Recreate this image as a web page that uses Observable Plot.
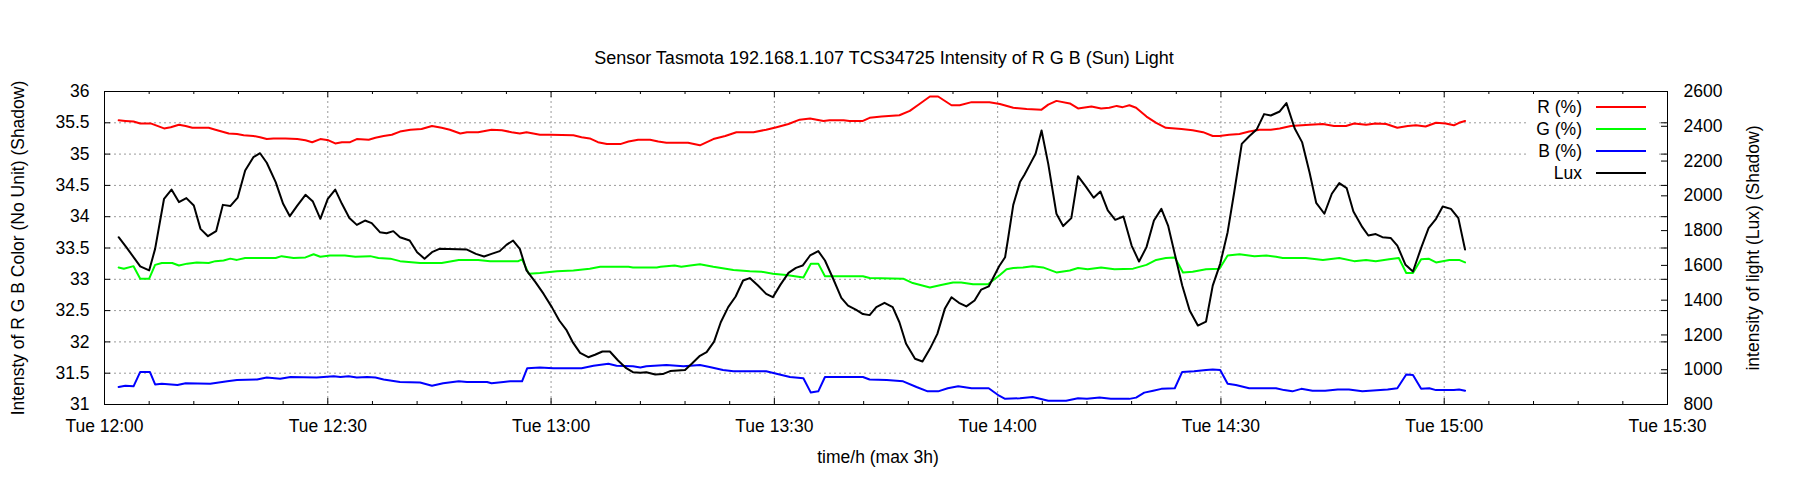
<!DOCTYPE html>
<html>
<head>
<meta charset="utf-8">
<script src="https://cdn.jsdelivr.net/npm/d3@7"></script>
<script src="https://cdn.jsdelivr.net/npm/@observablehq/plot@0.6"></script>
<style>
  html, body { margin: 0; padding: 0; background: #fff; }
  #chart { width: 1800px; height: 500px; }
</style>
</head>
<body>
<div id="chart"></div>
<script>
// ---- data (minutes after Tue 12:00) ----
const rTime = [1.9,2.8,3.9,4.8,6.2,7.1,8.0,8.9,10.0,10.9,11.8,14.0,14.9,16.7,17.8,18.7,20.0,20.9,21.8,22.7,24.3,25.9,27.0,27.9,29.0,30.1,31.0,31.9,33.0,33.9,35.5,36.4,37.5,38.6,39.7,41.1,42.6,44.0,45.3,46.4,47.8,48.7,50.2,52.0,53.4,54.7,55.8,56.7,58.5,59.9,63.0,64.1,65.2,66.3,67.5,69.3,70.4,71.7,73.3,74.4,75.5,78.4,80.0,81.8,83.4,84.9,87.2,88.9,90.3,91.9,93.4,94.8,96.6,97.4,99.3,100.1,101.9,102.8,104.4,106.8,108.2,109.5,110.9,112.0,113.8,114.9,116.5,118.9,120.3,122.1,123.9,125.9,126.8,127.9,129.7,130.8,132.6,133.9,135.0,136.0,136.8,137.7,138.6,140.0,141.3,142.6,144.7,146.2,147.6,148.9,149.8,151.1,152.5,153.8,155.2,156.7,157.9,159.4,161.9,163.7,165.2,166.8,167.9,169.5,170.8,172.2,173.7,175.1,176.2,177.5,178.9,180.2,181.3,182.0,182.8];
const rVal  = [35.54,35.53,35.52,35.49,35.49,35.45,35.41,35.43,35.47,35.45,35.42,35.42,35.39,35.33,35.32,35.30,35.29,35.27,35.24,35.25,35.25,35.24,35.22,35.19,35.24,35.22,35.17,35.19,35.19,35.24,35.23,35.26,35.29,35.31,35.36,35.39,35.40,35.45,35.42,35.39,35.33,35.35,35.35,35.39,35.38,35.35,35.33,35.35,35.31,35.31,35.30,35.27,35.25,35.19,35.16,35.16,35.20,35.23,35.23,35.20,35.18,35.18,35.14,35.24,35.29,35.35,35.35,35.39,35.43,35.48,35.55,35.57,35.53,35.54,35.54,35.53,35.53,35.58,35.60,35.62,35.69,35.80,35.92,35.92,35.78,35.78,35.83,35.83,35.80,35.74,35.72,35.71,35.79,35.85,35.81,35.73,35.76,35.73,35.74,35.77,35.75,35.78,35.74,35.60,35.50,35.42,35.40,35.38,35.35,35.29,35.29,35.31,35.32,35.36,35.39,35.39,35.41,35.45,35.47,35.48,35.45,35.45,35.49,35.47,35.49,35.48,35.42,35.45,35.46,35.44,35.50,35.49,35.46,35.50,35.53];

const gTime = [1.9,2.6,3.9,4.8,6.0,6.8,7.7,9.1,10.0,11.1,12.4,14.0,14.9,16.0,16.9,17.8,18.9,23.0,23.8,25.4,27.0,28.1,29.0,30.3,32.3,33.7,35.7,36.8,38.4,39.7,42.4,45.3,47.6,50.2,51.8,55.6,56.1,57.0,58.5,60.8,63.0,65.2,66.6,70.4,71.0,74.2,74.7,76.6,77.5,78.7,80.0,81.8,84.5,86.7,88.3,89.8,91.6,93.9,94.9,95.9,96.8,101.9,102.8,107.3,108.6,110.9,112.4,114.0,115.1,116.7,118.7,120.3,121.2,122.1,123.4,124.7,126.1,127.9,129.7,130.8,132.1,133.9,135.7,138.2,140.0,141.3,142.6,143.8,144.9,146.2,148.0,149.8,150.9,152.5,154.5,156.1,157.4,158.3,161.4,163.7,165.9,167.9,169.5,170.8,172.6,173.9,174.9,175.8,176.9,177.9,178.9,180.7,182.0,182.8];
const gVal  = [33.19,33.17,33.21,33.01,33.01,33.23,33.26,33.26,33.22,33.25,33.27,33.26,33.29,33.30,33.33,33.31,33.34,33.34,33.37,33.34,33.35,33.40,33.36,33.38,33.38,33.36,33.37,33.34,33.33,33.29,33.26,33.26,33.31,33.31,33.29,33.29,33.32,33.09,33.10,33.13,33.14,33.17,33.20,33.20,33.19,33.19,33.20,33.22,33.20,33.22,33.24,33.20,33.15,33.13,33.12,33.09,33.07,33.03,33.25,33.25,33.05,33.05,33.02,33.01,32.94,32.87,32.91,32.95,32.95,32.92,32.92,33.07,33.16,33.18,33.19,33.21,33.19,33.11,33.14,33.18,33.16,33.19,33.16,33.17,33.23,33.31,33.34,33.35,33.11,33.12,33.16,33.17,33.38,33.40,33.37,33.38,33.36,33.34,33.34,33.31,33.34,33.29,33.31,33.29,33.32,33.34,33.10,33.10,33.32,33.33,33.27,33.31,33.31,33.27];

const bTime = [1.9,2.8,3.9,4.8,6.1,6.8,7.7,9.8,10.9,14.2,16.5,17.8,20.5,21.8,23.6,25.0,28.5,30.8,31.7,32.8,33.9,35.3,36.4,37.5,39.7,42.4,44.0,45.5,47.6,48.7,51.4,52.0,53.6,54.5,56.1,56.8,58.5,60.3,64.1,65.7,67.7,68.8,71.0,72.0,72.8,75.5,77.8,80.0,81.3,83.1,84.5,88.9,90.7,92.1,93.9,94.9,95.9,96.8,101.9,102.8,105.1,107.3,109.1,110.6,112.0,113.3,114.7,116.5,118.8,120.2,121.0,123.0,124.7,126.8,129.2,130.8,132.0,133.7,135.2,137.7,138.6,139.7,140.9,142.0,143.8,144.8,146.4,148.0,148.9,149.9,150.9,152.0,153.8,157.4,158.5,159.6,160.8,162.3,164.0,165.7,167.2,169.0,172.4,173.7,174.9,175.8,176.9,178.0,178.9,181.3,182.0,182.8];
const bVal  = [31.28,31.30,31.29,31.52,31.52,31.32,31.33,31.31,31.34,31.33,31.37,31.39,31.40,31.43,31.41,31.44,31.43,31.45,31.44,31.45,31.43,31.44,31.43,31.40,31.36,31.35,31.30,31.34,31.37,31.36,31.36,31.34,31.36,31.37,31.37,31.58,31.59,31.58,31.58,31.62,31.65,31.62,31.61,31.59,31.61,31.63,31.61,31.63,31.60,31.55,31.53,31.53,31.48,31.44,31.42,31.19,31.21,31.44,31.44,31.40,31.39,31.37,31.28,31.21,31.21,31.26,31.29,31.26,31.26,31.14,31.09,31.10,31.12,31.06,31.06,31.10,31.09,31.11,31.09,31.09,31.11,31.19,31.22,31.25,31.26,31.52,31.53,31.55,31.56,31.55,31.33,31.31,31.26,31.26,31.23,31.21,31.25,31.22,31.22,31.24,31.24,31.21,31.24,31.26,31.48,31.47,31.25,31.26,31.23,31.23,31.24,31.22];

const luxTime = [1.9,3.0,4.8,6.0,6.8,8.0,9.0,10.0,11.0,12.0,12.9,13.9,15.0,15.9,16.9,17.9,18.9,20.0,20.9,21.8,23.0,24.0,24.9,25.9,27.0,28.0,29.0,30.0,31.0,31.9,32.9,33.9,35.0,35.9,37.0,37.9,38.8,39.7,41.0,42.0,43.0,44.0,45.0,48.7,49.9,51.0,52.0,53.1,54.0,54.9,55.8,56.7,57.9,59.0,60.1,61.1,62.1,62.9,63.9,65.0,65.9,66.9,67.9,69.0,70.1,71.0,72.0,72.8,74.0,75.0,76.0,78.0,78.9,80.0,80.9,81.9,82.8,83.8,84.8,85.8,86.7,87.8,88.9,89.8,90.8,91.9,92.9,93.8,94.8,95.9,96.8,97.9,99.0,99.9,101.0,101.9,102.8,103.7,104.8,105.9,106.8,107.7,108.9,109.9,110.9,111.9,112.9,113.8,114.8,115.8,116.9,117.8,118.8,120.2,121.0,121.4,122.1,123.0,123.6,124.5,125.1,125.9,126.8,127.9,128.8,129.9,130.8,131.9,132.9,133.8,134.8,135.8,136.9,138.0,139.0,140.0,141.0,142.0,142.9,143.8,144.8,145.8,146.9,148.0,148.9,149.9,150.9,151.8,152.8,153.8,154.8,155.8,156.7,157.9,158.8,159.9,160.9,161.9,162.8,163.9,164.9,165.9,166.9,167.8,169.0,169.8,170.8,171.7,172.8,173.7,174.8,175.8,176.9,177.9,178.9,179.8,180.9,181.9,182.8];
const luxVal  = [1762,1701,1594,1571,1695,1983,2036,1964,1987,1944,1810,1768,1797,1948,1941,1990,2146,2222,2245,2190,2079,1954,1883,1944,2006,1967,1868,1983,2036,1954,1873,1833,1858,1843,1791,1785,1797,1762,1743,1676,1638,1676,1695,1691,1666,1651,1666,1682,1718,1743,1695,1571,1504,1436,1360,1283,1226,1159,1097,1072,1086,1105,1105,1053,1009,986,982,986,973,975,992,999,1034,1080,1101,1162,1273,1360,1421,1513,1527,1484,1436,1417,1488,1557,1586,1599,1657,1682,1628,1523,1413,1369,1344,1320,1314,1360,1385,1360,1273,1149,1063,1047,1120,1206,1350,1417,1385,1364,1398,1461,1479,1595,1647,1753,1948,2079,2121,2194,2242,2376,2184,1897,1826,1872,2113,2050,1989,2025,1916,1862,1881,1714,1622,1705,1858,1925,1829,1666,1484,1341,1254,1277,1484,1609,1791,2025,2299,2343,2381,2470,2462,2485,2533,2389,2309,2136,1960,1897,2012,2073,2044,1910,1820,1772,1780,1762,1758,1714,1603,1565,1701,1814,1868,1939,1925,1872,1691];

// ---- ticks & labels ----
const xMajor = [0, 30, 60, 90, 120, 150, 180, 210];
const xTickLabels = ["Tue 12:00","Tue 12:30","Tue 13:00","Tue 13:30","Tue 14:00","Tue 14:30","Tue 15:00","Tue 15:30"];
const xMinor = d3.range(0, 211, 6).filter(m => m % 30 !== 0);
const yTicks = [31, 31.5, 32, 32.5, 33, 33.5, 34, 34.5, 35, 35.5, 36];
const luxTicks = [800, 1000, 1200, 1400, 1600, 1800, 2000, 2200, 2400, 2600];

const seriesNames = ["R (%)", "G (%)", "B (%)", "Lux"];
const seriesColors = ["#ff0000", "#00ff00", "#0000ff", "#000000"];

const titleText = "Sensor Tasmota 192.168.1.107 TCS34725 Intensity of R G B (Sun) Light";
const yLabel = "Intensty of R G B Color (No Unit) (Shadow)";
const y2Label = "intensity of light (Lux) (Shadow)";
const xLabel = "time/h (max 3h)";

// ---- dual-axis mapping (lux -> left scale) ----
const Y0 = 31, Y1 = 36, L0 = 800, L1 = 2600;
const luxToLeft = l => Y0 + (l - L0) * (Y1 - Y0) / (L1 - L0);
const leftToLux = v => L0 + (v - Y0) * (L1 - L0) / (Y1 - Y0);

const rData = rTime.map((t, i) => ({t, v: rVal[i]}));
const gData = gTime.map((t, i) => ({t, v: gVal[i]}));
const bData = bTime.map((t, i) => ({t, v: bVal[i]}));
const luxData = luxTime.map((t, i) => ({t, v: luxToLeft(luxVal[i])}));

const W = 1800, H = 500;
const mL = 104, mR = 133, mT = 91, mB = 96;
const fw = W - mL - mR, fh = H - mT - mB;
const FONT = "'Liberation Sans', Arial, Helvetica, sans-serif";
const FS = 17.5;
const FT = 18;

const grid = {stroke: "#9a9a9a", strokeOpacity: 1, strokeDasharray: "2,3", strokeWidth: 1};

const chart = Plot.plot({
  width: W, height: H,
  marginLeft: mL, marginRight: mR, marginTop: mT, marginBottom: mB,
  style: {fontFamily: FONT, fontSize: FS + "px", background: "#fff", color: "#000"},
  x: {type: "linear", domain: [0, 210]},
  y: {domain: [Y0, Y1]},
  marks: [
    Plot.gridX(xMajor, grid),
    Plot.gridY(yTicks, grid),
    Plot.line(rData, {x: "t", y: "v", stroke: seriesColors[0], strokeWidth: 2}),
    Plot.line(gData, {x: "t", y: "v", stroke: seriesColors[1], strokeWidth: 2}),
    Plot.line(bData, {x: "t", y: "v", stroke: seriesColors[2], strokeWidth: 2}),
    Plot.line(luxData, {x: "t", y: "v", stroke: seriesColors[3], strokeWidth: 2}),
    // inward ticks
    Plot.tickX(xMajor, {x: d => d, insetTop: fh - 6, stroke: "#000"}),
    Plot.tickX(xMajor, {x: d => d, insetBottom: fh - 6, stroke: "#000"}),
    Plot.tickX(xMinor, {x: d => d, insetTop: fh - 3, stroke: "#000"}),
    Plot.tickX(xMinor, {x: d => d, insetBottom: fh - 3, stroke: "#000"}),
    Plot.tickY(yTicks, {y: d => d, insetRight: fw - 6, stroke: "#000"}),
    Plot.tickY(yTicks, {y: d => d, insetLeft: fw - 6, stroke: "#000"}),
    Plot.tickY(luxTicks.map(luxToLeft), {y: d => d, insetLeft: fw - 6, stroke: "#000"}),
    Plot.axisX({ticks: xMajor, tickFormat: d => xTickLabels[xMajor.indexOf(d)], tickSize: 0, tickPadding: 15, label: null, fontSize: FS}),
    Plot.axisY({anchor: "left", ticks: yTicks, tickFormat: d => String(d), tickSize: 0, tickPadding: 15, label: null, fontSize: FS}),
    Plot.axisY({anchor: "right", ticks: luxTicks.map(luxToLeft), tickFormat: d => String(Math.round(leftToLux(d))), tickSize: 0, tickPadding: 16, label: null, fontSize: FS}),
    Plot.frame({stroke: "#000", strokeWidth: 1}),
    Plot.text([titleText], {text: d => d, frameAnchor: "top", lineAnchor: "middle", textAnchor: "middle", dx: -2, dy: -33.5, fontSize: FT}),
    Plot.text([xLabel], {text: d => d, frameAnchor: "bottom", lineAnchor: "middle", textAnchor: "middle", dx: -8, dy: 53, fontSize: FS}),
    Plot.text([yLabel], {text: d => d, frameAnchor: "left", lineAnchor: "middle", textAnchor: "middle", dx: -86, rotate: -90, fontSize: FS}),
    Plot.text([y2Label], {text: d => d, frameAnchor: "right", lineAnchor: "middle", textAnchor: "middle", dx: 86, rotate: -90, fontSize: FS})
  ]
});

document.getElementById("chart").appendChild(chart);

// ---- legend inside plot area (top right) ----
const svg = d3.select(chart);
const lg = svg.append("g").attr("font-family", FONT).attr("font-size", FS);
lg.append("rect").attr("x", 1528).attr("y", 95).attr("width", 130).attr("height", 88).attr("fill", "#fff");
seriesNames.forEach((name, i) => {
  const y = 107 + i * 22;
  lg.append("text").attr("x", 1582).attr("y", y).attr("dy", "0.35em").attr("text-anchor", "end").attr("fill", "#000").text(name);
  lg.append("line").attr("x1", 1596).attr("x2", 1646).attr("y1", y).attr("y2", y).attr("stroke", seriesColors[i]).attr("stroke-width", 2);
});
</script>
</body>
</html>
